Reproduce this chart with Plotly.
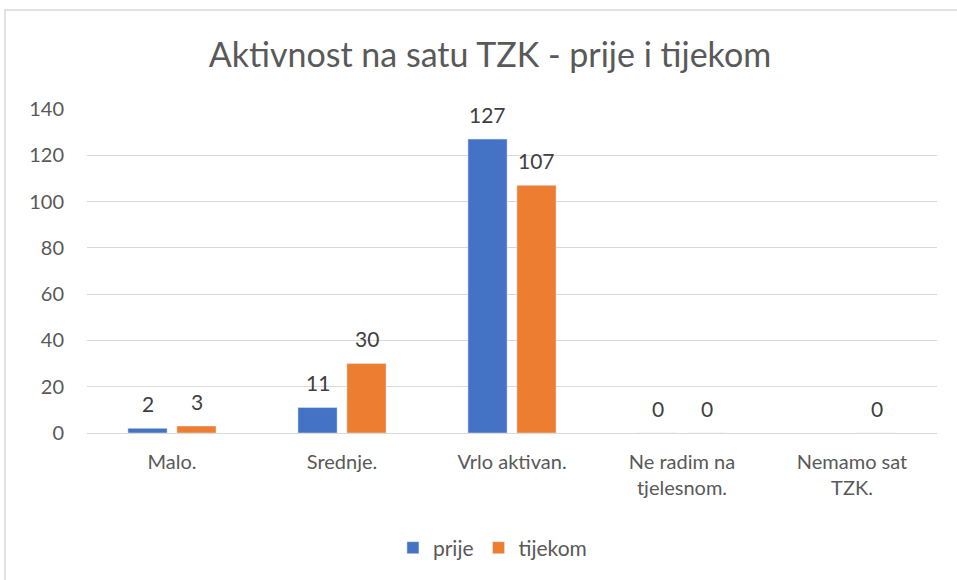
import plotly.graph_objects as go

categories = ["Malo.", "Srednje.", "Vrlo aktivan.", "Ne radim na<br>tjelesnom.", "Nemamo sat<br>TZK."]
prije = [2, 11, 127, 0, None]
tijekom = [3, 30, 107, 0, 0]
y_ticks = [0, 20, 40, 60, 80, 100, 120, 140]

FONT = "Lato"
BLUE = "#4472C4"
ORANGE = "#ED7D31"

fig = go.Figure()
fig.add_trace(go.Bar(x=categories, y=prije, name="prije", marker_color=BLUE))
fig.add_trace(go.Bar(x=categories, y=tijekom, name="tijekom", marker_color=ORANGE))

annotations = []
for series, xshift in ((prije, -24.5), (tijekom, 24.5)):
    for cat, v in zip(categories, series):
        if v is None:
            continue
        annotations.append(dict(x=cat, y=v, xref="x", yref="y", text=str(v), showarrow=False,
                                xshift=xshift, yshift=25, yanchor="middle",
                                font=dict(family=FONT, size=21, color="#404040")))

fig.update_layout(
    width=957, height=580,
    margin=dict(l=87, r=20, t=109, b=147),
    paper_bgcolor="white", plot_bgcolor="white",
    barmode="group", bargap=0.424, bargroupgap=0.2,
    title=dict(text="Aktivnost na satu TZK - prije i tijekom", x=0.512, xanchor="center",
               y=0.905, yanchor="middle",
               font=dict(family=FONT, size=34, color="#595959")),
    font=dict(family=FONT, size=20, color="#595959"),
    legend=dict(orientation="h", x=0.477, xanchor="center", y=-0.355, yanchor="middle",
                font=dict(size=21, color="#595959"), itemwidth=30),
    showlegend=True,
    yaxis=dict(range=[0, 140], tickvals=y_ticks, showgrid=True, gridcolor="#d9d9d9",
               zeroline=False, showline=False, ticks="", ticklabelstandoff=22,
               tickfont=dict(size=20, color="#595959")),
    xaxis=dict(showline=True, linecolor="#d9d9d9", ticks="", tickfont=dict(size=20, color="#595959"),
               ticklabelstandoff=11),
    annotations=annotations,
    shapes=[dict(type="rect", xref="paper", yref="paper", x0=-0.0965, x1=1.2, y0=-0.6, y1=1.3056,
                 line=dict(color="#d9d9d9", width=1.5), fillcolor="rgba(0,0,0,0)", layer="below")],
)
fig.write_html("out.html", config={"displayModeBar": False},
               post_script="document.body.style.margin='0';")
